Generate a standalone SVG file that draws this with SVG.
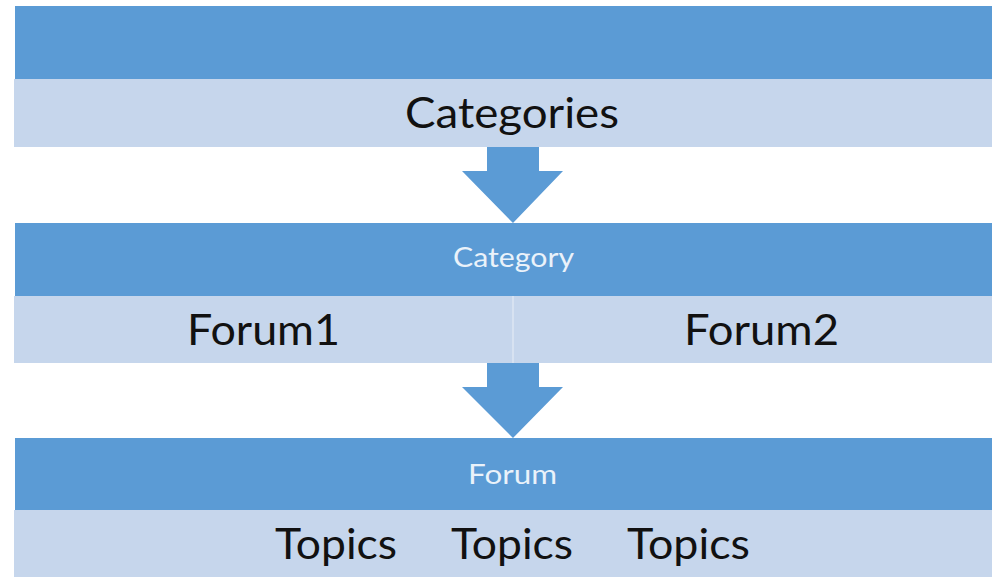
<svg xmlns="http://www.w3.org/2000/svg" width="992" height="577" viewBox="0 0 992 577">
<style>
.dark{fill:#5B9BD5}
.light{fill:#C6D6EC}
.t{font-family:Lato,"Open Sans","Liberation Sans",sans-serif}
.big{font-size:43px;fill:#111111}
.small{font-size:26px;fill:#EAF2FA}
.arrow{fill:#5B9BD5}
</style>
<rect width="992" height="577" fill="#ffffff"/>
<g id="categories">
<rect class="dark" x="15" y="6" width="977" height="73"/>
<rect class="light" x="14" y="79" width="978" height="68"/>
<text class="t big" x="405" y="128" textLength="214" lengthAdjust="spacingAndGlyphs">Categories</text>
</g>
<g id="category">
<rect class="dark" x="15" y="223" width="977" height="73"/>
<rect class="light" x="14" y="296" width="978" height="67"/>
<line x1="513" y1="296" x2="513" y2="363" stroke="#DCE6F3" stroke-width="1.5"/>
<text class="t small" x="453" y="267" textLength="121" lengthAdjust="spacingAndGlyphs">Category</text>
<text class="t big" x="187" y="345" textLength="153" lengthAdjust="spacingAndGlyphs">Forum1</text>
<text class="t big" x="684" y="345" textLength="155" lengthAdjust="spacingAndGlyphs">Forum2</text>
</g>
<g id="forum">
<rect class="dark" x="15" y="438" width="977" height="72"/>
<rect class="light" x="14" y="510" width="978" height="67"/>
<text class="t small" x="468" y="484" textLength="89" lengthAdjust="spacingAndGlyphs">Forum</text>
<text class="t big" x="275" y="559" textLength="122" lengthAdjust="spacingAndGlyphs">Topics</text>
<text class="t big" x="451" y="559" textLength="122" lengthAdjust="spacingAndGlyphs">Topics</text>
<text class="t big" x="627" y="559" textLength="123" lengthAdjust="spacingAndGlyphs">Topics</text>
</g>
<g id="connectors">
<polygon class="arrow" points="487,147 539,147 539,171 563,171 513,223 462,171 487,171"/>
<polygon class="arrow" points="487,363 539,363 539,387 563,387 513,438 462,387 487,387"/>
</g>
</svg>
